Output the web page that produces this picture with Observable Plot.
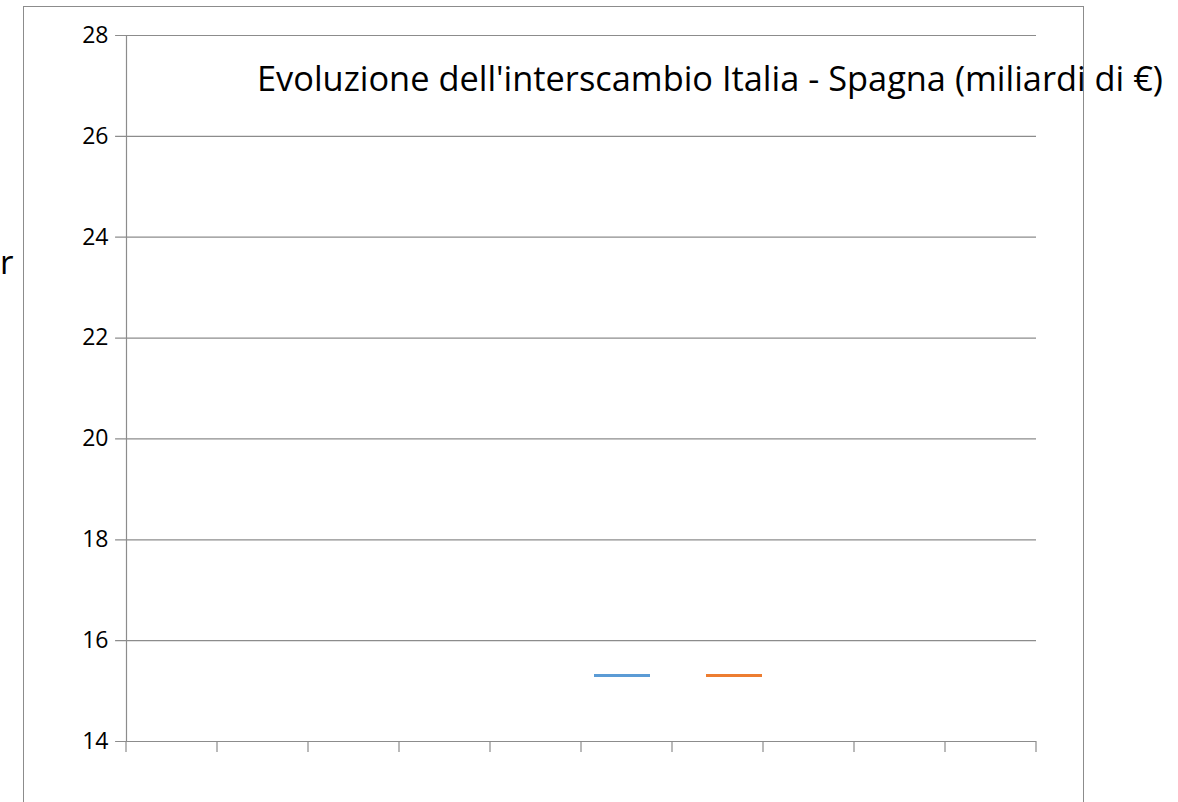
<!DOCTYPE html>
<html>
<head>
<meta charset="utf-8">
<script src="https://cdn.jsdelivr.net/npm/d3@7"></script>
<script src="https://cdn.jsdelivr.net/npm/@observablehq/plot@0.6"></script>
<style>
  html, body { margin: 0; padding: 0; background: #fff; }
  #wrap { position: relative; width: 1178px; height: 802px; overflow: hidden; background: #fff; font-family: "Open Sans", "DejaVu Sans", sans-serif; }
  #frame { position: absolute; left: 23px; top: 6px; width: 1061px; height: 900px; border: 1px solid #8c8c8c; box-sizing: border-box; }
  #chart { position: absolute; left: 0; top: 0; }
  #title { position: absolute; left: 257px; top: 0; white-space: nowrap; font-size: 34px; color: #000; transform-origin: 0 0; line-height: 1; }
  #ytitle { position: absolute; top: 0; white-space: nowrap; font-size: 33px; color: #000; line-height: 1; }
  .sw { position: absolute; height: 3px; }
</style>
</head>
<body>
<div id="wrap">
  <div id="frame"></div>
  <div id="chart"></div>
  <div id="title"></div>
  <div id="ytitle"></div>
  <div id="legend"></div>
</div>
<script>
// ---- data ----
const titleText = "Evoluzione dell'interscambio Italia - Spagna (miliardi di €)";
const axisTitleText = "r";
const categories = ["", "", "", "", "", "", "", "", "", ""];   // 10 unlabeled categories
const seriesNames = ["", ""];                                  // empty legend entries
const seriesBlue = [];                                          // no plotted values
const seriesOrange = [];                                        // no plotted values
const yTicks = [14, 16, 18, 20, 22, 24, 26, 28];
const xTicks = [0, 1, 2, 3, 4, 5, 6, 7, 8, 9, 10];              // category boundaries

const colors = ["#5b9bd5", "#ed7d31"];

const rows = [
  ...seriesBlue.map((v, i) => ({ i, v, s: seriesNames[0], c: 0 })),
  ...seriesOrange.map((v, i) => ({ i, v, s: seriesNames[1], c: 1 }))
];

const chart = Plot.plot({
  width: 1178,
  height: 802,
  marginLeft: 126,
  marginRight: 142,
  marginTop: 35,
  marginBottom: 61,
  style: { fontFamily: "Open Sans, sans-serif", fontSize: "23px", color: "#000", background: "transparent", overflow: "visible" },
  x: { domain: [0, categories.length], ticks: xTicks, axis: null },
  y: { domain: [yTicks[0], yTicks[yTicks.length - 1]], axis: null },
  marks: [
    Plot.ruleY(yTicks, { x1: -0.12, x2: categories.length, stroke: "#8c8c8c", strokeWidth: 1.2 }),
    Plot.ruleX([0], { y1: yTicks[0], y2: yTicks[yTicks.length - 1], stroke: "#8c8c8c", strokeWidth: 1.2 }),
    Plot.tickX(xTicks, { x: d => d, frameAnchor: "bottom", stroke: "#8c8c8c", strokeWidth: 1.2 }),
    Plot.text(yTicks, { x: 0, y: d => d, text: d => String(d), textAnchor: "end", dx: -18, fontSize: 23, fill: "#000" }),
    Plot.line(rows, { x: d => d.i + 0.5, y: "v", z: "s", stroke: d => colors[d.c], strokeWidth: 3 })
  ]
});
document.getElementById("chart").appendChild(chart);

// x tick marks hang below the axis line
chart.querySelectorAll("g[aria-label='tick'] line").forEach(l => {
  l.setAttribute("y1", 741);
  l.setAttribute("y2", 752);
  l.removeAttribute("transform");
});
chart.querySelectorAll("g[aria-label='tick']").forEach(g => g.removeAttribute("transform"));

// title, scaled to span the reference width
const t = document.getElementById("title");
t.textContent = titleText;
const tw = t.getBoundingClientRect().width;
t.style.transform = `scaleX(${906 / tw})`;
t.style.top = (93 - 34 * 0.95) + "px";

const yt = document.getElementById("ytitle");
yt.textContent = axisTitleText;
yt.style.left = "0px";
yt.style.top = (276 - 33 * 0.95) + "px";

// legend swatches
const lg = document.getElementById("legend");
const legendX = [594, 706];
seriesNames.forEach((n, k) => {
  const d = document.createElement("div");
  d.className = "sw";
  d.style.left = legendX[k] + "px";
  d.style.top = "674px";
  d.style.width = "56px";
  d.style.background = colors[k];
  d.title = n;
  lg.appendChild(d);
});
</script>
</body>
</html>
